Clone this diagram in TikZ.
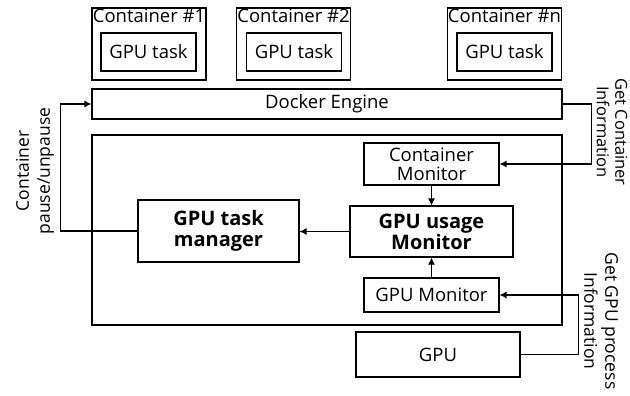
\documentclass[tikz,border=0pt]{standalone}
\usepackage{fontspec}
\setmainfont{Open Sans}
\usetikzlibrary{arrows.meta}

\begin{document}
\begin{tikzpicture}[x=1pt,y=-1pt,>={Latex[length=7pt,width=7pt]},line width=1.1pt,
    box/.style={draw,rectangle,inner sep=0pt,font=\fontsize{18.5}{22}\selectfont},
    ctr/.style={box,line width=1.5pt,minimum width=114,minimum height=72},
    task/.style={box,minimum width=95,minimum height=38},
    side/.style={align=center,inner sep=0pt,font=\fontsize{17.5}{21}\selectfont},
    bold box/.style={box,align=center,font=\fontsize{20}{24}\selectfont\bfseries}]

    \useasboundingbox (0,0) rectangle (630,396);

    % containers on top
    \node[ctr,label={[anchor=north,inner sep=1.5pt,font=\fontsize{18.5}{22}\selectfont]north:Container \#1}] (c1) at (149,44) {};
    \node[ctr,label={[anchor=north,inner sep=1.5pt,font=\fontsize{18.5}{22}\selectfont]north:Container \#2}] (c2) at (293.5,44) {};
    \node[ctr,label={[anchor=north,inner sep=1.5pt,font=\fontsize{18.5}{22}\selectfont]north:Container \#n}] (cn) at (504.5,44) {};
    \node[task] (t1) at (148.5,52) {GPU task};
    \node[task] (t2) at (294,52) {GPU task};
    \node[task] (tn) at (504.5,52) {GPU task};

    \node[box,minimum width=470,minimum height=30] (docker) at (327,104) {Docker Engine};
    \node[box,minimum width=470,minimum height=190] (host) at (327,230) {};

    % monitors
    \node[box,align=center,minimum width=135,minimum height=42] (cmon) at (431.5,164) {Container\\[-3pt]Monitor};
    \node[bold box,minimum width=163,minimum height=51] (usage) at (431.5,231.5) {GPU usage\\[-3pt]Monitor};
    \node[box,minimum width=135,minimum height=34] (gmon) at (431.5,295) {GPU Monitor};
    \node[bold box,minimum width=161,minimum height=62] (manager) at (218.5,231) {GPU task\\[-3pt]manager};
    \node[box,minimum width=164,minimum height=45] (gpu) at (438,354.5) {GPU};

    \draw[->] (cmon.south) -- (usage.north);
    \draw[->] (gmon.north) -- (usage.south);
    \draw[->] (usage.west) -- (usage.west -| manager.east);
    \draw[->] (manager.west) -- ++(-77,0) |- (docker.west);
    \draw[->] (docker.east) -- ++(29,0) |- (cmon.east);
    \draw[->] (gpu.east) -- ++(58,0) |- (gmon.east);

    % side labels
    \node[side,rotate=90] (pause) at (35,171) {Container\\pause/unpause};
    \node[side,rotate=-90,font=\fontsize{16.5}{18.5}\selectfont] (cinfo) at (612,132) {Get Container\\Information};
    \node[side,rotate=-90] (ginfo) at (601,321) {Get GPU process\\Information};
\end{tikzpicture}
\end{document}
